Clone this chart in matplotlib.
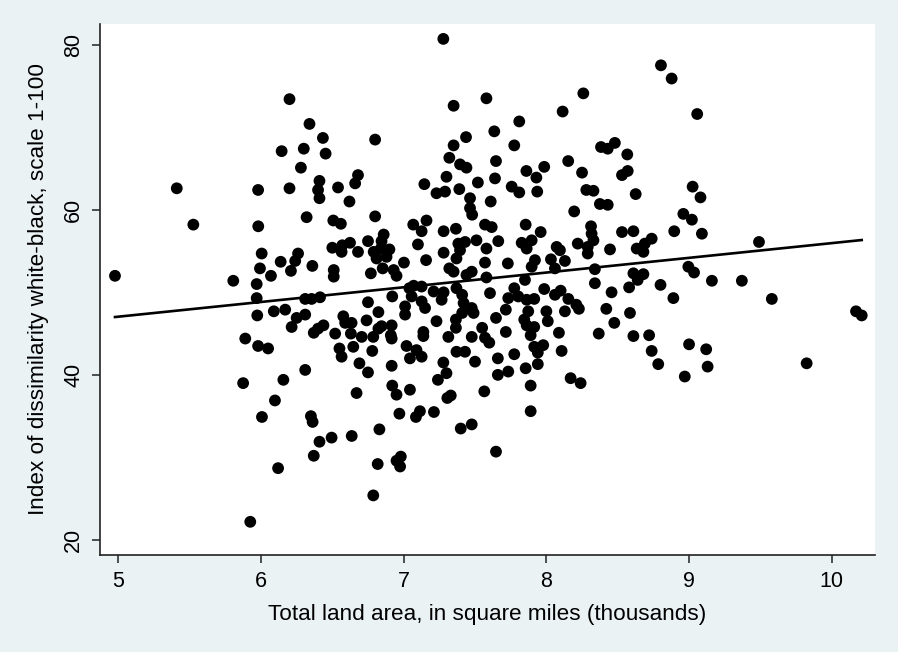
import numpy as np
import matplotlib.pyplot as plt

# (land area in thousand sq mi, dissimilarity index)
readings = [
    (4.977, 52.0), (5.41, 62.6), (5.526, 58.2), (5.981, 58.0), (6.005, 54.7), (6.138, 53.7),
    (5.993, 52.9), (6.07, 52.0), (6.21, 52.6), (5.806, 51.4), (5.97, 51.0), (5.97, 49.3),
    (5.974, 47.2), (6.09, 47.7), (6.17, 47.9), (6.215, 45.8), (5.89, 44.4), (5.98, 43.5),
    (6.05, 43.2), (5.875, 39.0), (6.157, 39.4), (6.098, 36.9), (6.007, 34.9), (6.12, 28.7),
    (5.925, 22.2), (6.2, 73.4), (6.145, 67.1), (5.98, 62.4), (6.2, 62.6),
    # upper middle
    (7.278, 80.7), (7.35, 72.6), (7.58, 73.5), (6.34, 70.4), (6.434, 68.7), (6.80, 68.5),
    (7.437, 68.8), (7.35, 67.8), (6.30, 67.4), (6.453, 66.8), (7.32, 66.3), (7.395, 65.5),
    (7.44, 65.1), (6.28, 65.1), (7.52, 63.3), (7.30, 64.0), (7.145, 63.1), (6.68, 64.2),
    (6.66, 63.2), (6.41, 63.5), (6.40, 62.4), (6.41, 61.4), (6.54, 62.7), (7.23, 62.0),
    (7.29, 62.2), (7.39, 62.5), (7.465, 61.4), (6.62, 61.0),
    (8.803, 77.5), (8.878, 75.9), (8.259, 74.1), (8.114, 71.9), (7.81, 70.7), (7.635, 69.5),
    (7.775, 67.8), (8.383, 67.6), (8.43, 67.4), (8.48, 68.1), (8.567, 66.7), (7.647, 65.9),
    (8.153, 65.9), (7.985, 65.2), (7.86, 64.7), (7.93, 63.9), (7.64, 63.8), (8.25, 64.5),
    (8.53, 64.2), (8.57, 64.7), (7.757, 62.8), (7.81, 62.1), (7.936, 62.2), (8.28, 62.4),
    (8.33, 62.3), (8.626, 61.9), (7.61, 61.0), (9.057, 71.6), (9.025, 62.8), (9.08, 61.5),
    # central cluster, left half
    (6.32, 59.1), (6.507, 58.7), (6.56, 58.3), (6.80, 59.2), (7.067, 58.2), (7.16, 58.7),
    (7.126, 57.4), (7.10, 55.8), (7.28, 57.4), (7.366, 57.7), (7.465, 60.2), (7.48, 59.4),
    (6.86, 57.0), (6.845, 56.2), (6.75, 56.2), (6.50, 55.4), (6.57, 55.7), (6.624, 56.0),
    (6.68, 54.9), (6.565, 54.9), (6.79, 54.9), (6.84, 55.3), (6.90, 55.2), (6.81, 54.1),
    (6.88, 54.3), (6.26, 54.7), (6.24, 53.8), (6.36, 53.2), (6.51, 52.7), (6.51, 51.9),
    (6.77, 52.3), (6.853, 52.9), (6.93, 52.7), (6.95, 52.0), (7.002, 53.6), (7.157, 53.9),
    (7.28, 54.8), (7.383, 55.9), (7.43, 56.1), (7.51, 56.3), (7.395, 55.1), (7.37, 54.1),
    (7.32, 52.9), (7.35, 52.5), (7.44, 52.1), (7.477, 52.5), (7.57, 53.6), (7.58, 51.8),
    (6.31, 49.2), (6.355, 49.2), (6.414, 49.4), (6.25, 46.9), (6.31, 47.3), (6.75, 48.8),
    (6.92, 49.5), (7.04, 50.5), (7.07, 50.8), (7.126, 50.7), (7.01, 48.3), (7.01, 47.3),
    (7.056, 49.5), (7.126, 48.9), (7.15, 48.1), (7.21, 50.1), (7.28, 50.0), (7.266, 49.1),
    (7.37, 50.5), (7.41, 49.7), (7.42, 48.7), (7.41, 47.5), (7.477, 48.1), (7.49, 47.5),
    (7.23, 46.5), (7.366, 46.7), (7.366, 45.7), (7.55, 45.7), (7.477, 44.6), (7.57, 44.5),
    (6.823, 47.6), (6.74, 46.6), (6.577, 47.1), (6.59, 46.3), (6.635, 46.3), (6.438, 46.0),
    (6.40, 45.6), (6.37, 45.1), (6.52, 45.0), (6.63, 45.0), (6.706, 44.6), (6.787, 44.6),
    (6.823, 45.6), (6.845, 45.9), (6.916, 46.0), (6.91, 44.8), (6.916, 44.4), (7.138, 45.2),
    (7.138, 44.7), (7.313, 44.6), (7.02, 43.5), (7.09, 43.0), (7.126, 42.2), (7.044, 42.0),
    (6.55, 43.2), (6.647, 43.4), (6.565, 42.2), (6.78, 42.9), (6.916, 41.1), (6.69, 41.4),
    (6.75, 40.3), (6.31, 40.6), (7.278, 41.5), (7.24, 39.4), (7.30, 40.2), (7.37, 42.8),
    (7.43, 42.8), (7.50, 41.6), (6.92, 38.7),
    # central cluster, right half
    (8.195, 59.8), (8.375, 60.7), (8.43, 60.6), (8.96, 59.5), (9.02, 58.8), (9.09, 57.1),
    (7.617, 57.9), (7.57, 58.2), (7.663, 56.2), (7.58, 55.3), (7.855, 58.2), (7.96, 57.3),
    (7.827, 56.0), (7.897, 56.3), (7.862, 55.3), (8.072, 55.5), (8.095, 55.1), (8.22, 55.9),
    (8.313, 58.0), (8.317, 57.1), (8.33, 56.3), (8.29, 55.5), (8.29, 54.7), (8.446, 55.2),
    (8.53, 57.3), (8.61, 57.4), (8.633, 55.3), (8.69, 55.9), (8.738, 56.5), (8.68, 54.9),
    (8.896, 57.4), (7.73, 53.5), (7.92, 53.9), (7.897, 53.1), (8.032, 54.0), (8.13, 53.8),
    (8.06, 52.9), (8.34, 52.8), (7.85, 51.5), (8.34, 51.1), (8.61, 52.3), (8.68, 52.2),
    (8.64, 51.5), (8.80, 50.9), (8.58, 50.6), (8.457, 50.0), (8.89, 49.3), (7.605, 49.9),
    (7.775, 50.5), (7.733, 49.3), (7.803, 49.5), (7.862, 49.1), (7.915, 49.2), (7.985, 50.4),
    (8.06, 49.7), (8.10, 50.2), (8.154, 49.2), (8.21, 48.5), (8.228, 48.0), (7.716, 47.9),
    (7.873, 47.7), (8.00, 47.7), (8.13, 47.7), (8.42, 48.0), (8.586, 47.5), (7.647, 46.9),
    (7.845, 46.7), (7.862, 46.0), (7.915, 45.8), (8.01, 46.5), (8.476, 46.3), (7.60, 43.9),
    (7.716, 45.2), (7.89, 44.8), (8.088, 45.1), (8.367, 45.0), (8.61, 44.7), (8.72, 44.8),
    (7.915, 43.4), (7.978, 43.6), (7.94, 42.7), (8.107, 42.9), (7.775, 42.5), (7.66, 42.0),
    (8.738, 42.9), (8.784, 41.3), (7.94, 41.3), (7.855, 40.8), (7.733, 40.4), (7.66, 40.0),
    (8.17, 39.6), (8.24, 39.0), (7.89, 38.7),
    # right tail
    (9.49, 56.1), (8.995, 53.1), (9.035, 52.4), (9.16, 51.4), (9.37, 51.4), (9.58, 49.2),
    (10.17, 47.7), (10.21, 47.2), (9.00, 43.7), (9.12, 43.1), (9.13, 41.0), (8.97, 39.8),
    (9.824, 41.4),
    # lower part
    (6.67, 37.8), (6.95, 37.6), (7.044, 38.2), (7.306, 37.2), (7.33, 37.5), (7.565, 38.0),
    (6.35, 35.0), (6.362, 34.3), (6.97, 35.3), (7.086, 34.9), (7.114, 35.6), (7.212, 35.5),
    (7.40, 33.5), (7.477, 34.0), (6.83, 33.4), (6.41, 31.9), (6.495, 32.4), (6.636, 32.6),
    (6.37, 30.2), (6.818, 29.2), (6.95, 29.6), (6.98, 30.1), (6.975, 28.9), (6.787, 25.4),
    (7.89, 35.6), (7.647, 30.7),
]

x_ticks = [5, 6, 7, 8, 9, 10]
y_ticks = [20, 40, 60, 80]
x_title = "Total land area, in square miles (thousands)"
y_title = "Index of dissimilarity white-black, scale 1-100"

area = np.array([a for a, _ in readings])
dissim = np.array([d for _, d in readings])

plt.rcParams['font.family'] = ['Liberation Sans', 'DejaVu Sans']

fig = plt.figure(figsize=(8.98, 6.52), dpi=100)
fig.patch.set_facecolor('#eaf2f3')
ax = fig.add_axes([100 / 898, 97 / 652, 775 / 898, 531.3 / 652])
ax.set_facecolor('white')

ax.scatter(area, dissim, s=72, color='black', edgecolors='none', zorder=3)

# linear fit over the data range
slope, intercept = np.polyfit(area, dissim, 1)
line_x = np.array([area.min(), area.max()])
ax.plot(line_x, intercept + slope * line_x, color='black', lw=1.9, zorder=4)

ax.set_xlim(4.872, 10.303)
ax.set_ylim(18.18, 82.54)
ax.set_xticks(x_ticks)
ax.set_yticks(y_ticks)
ax.set_yticklabels([str(v) for v in y_ticks], rotation=90, va='center')

for side in ['top', 'right']:
    ax.spines[side].set_visible(False)
for side in ['left', 'bottom']:
    ax.spines[side].set_linewidth(1.2)
    ax.spines[side].set_color('#222222')

ax.tick_params(direction='out', length=5.5, width=1.1, labelsize=15.5, pad=6, colors='#222222')
ax.tick_params(labelcolor='black')

ax.set_xlabel(x_title, fontsize=16.2, labelpad=9)
ax.set_ylabel(y_title, fontsize=16.2, labelpad=10)

fig.savefig('out.png', dpi=100, facecolor=fig.get_facecolor())
